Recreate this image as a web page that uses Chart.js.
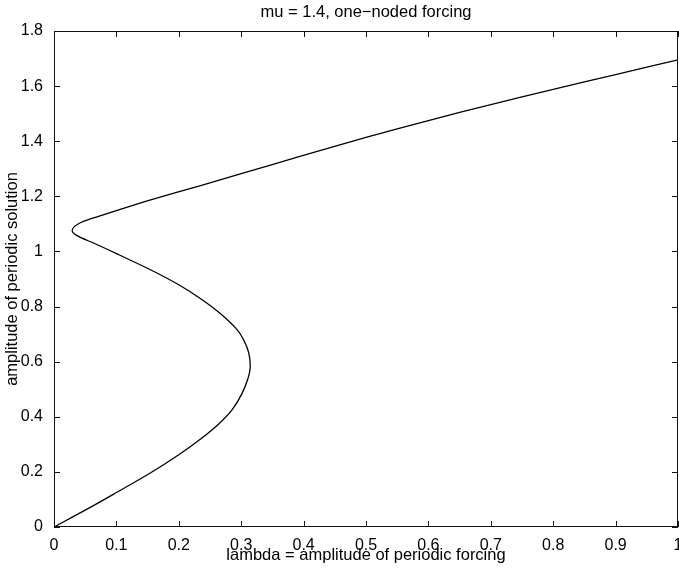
<!DOCTYPE html>
<html>
<head>
<meta charset="utf-8">
<script src="https://cdn.jsdelivr.net/npm/chart.js@4"></script>
<style>
  html, body { margin: 0; padding: 0; background: #fff; }
  #wrap { width: 679px; height: 572px; }
</style>
</head>
<body>
<div id="wrap"><canvas id="myChart"></canvas></div>
<script>
// curve, in order along the branch
let lambda = [0, 0.05, 0.1, 0.153, 0.2, 0.237, 0.264, 0.285, 0.301, 0.311, 0.3145, 0.312, 0.303, 0.292,
  0.266, 0.238, 0.2, 0.157, 0.104, 0.066, 0.043, 0.033, 0.029, 0.033, 0.044, 0.058, 0.075, 0.1, 0.155,
  0.235, 0.3, 0.394, 0.5, 0.6, 0.7, 0.8, 0.9, 1.0];
let amp = [0, 0.061, 0.125, 0.194, 0.262, 0.323, 0.374, 0.424, 0.483, 0.54, 0.58, 0.633, 0.683, 0.72,
  0.776, 0.824, 0.879, 0.931, 0.988, 1.028, 1.05, 1.063, 1.076, 1.091, 1.106, 1.118, 1.13, 1.148, 1.187,
  1.239, 1.282, 1.345, 1.414, 1.475, 1.533, 1.588, 1.642, 1.695];

let xTicks = [0, 0.1, 0.2, 0.3, 0.4, 0.5, 0.6, 0.7, 0.8, 0.9, 1];
let yTicks = [0, 0.2, 0.4, 0.6, 0.8, 1, 1.2, 1.4, 1.6, 1.8];

let points = lambda.map((v, i) => ({ x: v, y: amp[i] }));

let font = "'Liberation Sans', Arial, Helvetica, sans-serif";

// matlab style box with ticks pointing inwards
let boxTicks = {
  id: 'boxTicks',
  afterDatasetsDraw(chart) {
    let c = chart.ctx;
    let a = chart.chartArea;
    let sx = chart.scales.x, sy = chart.scales.y;
    c.save();
    c.strokeStyle = '#111';
    c.lineWidth = 1;
    c.strokeRect(a.left + 0.5, a.top + 0.5, a.right - a.left - 1, a.bottom - a.top - 1);
    c.beginPath();
    xTicks.forEach(t => {
      let px = Math.round(sx.getPixelForValue(t)) + 0.5;
      c.moveTo(px, a.bottom); c.lineTo(px, a.bottom - 6);
      c.moveTo(px, a.top); c.lineTo(px, a.top + 6);
    });
    yTicks.forEach(t => {
      let py = Math.round(sy.getPixelForValue(t)) + 0.5;
      c.moveTo(a.left, py); c.lineTo(a.left + 6, py);
      c.moveTo(a.right, py); c.lineTo(a.right - 6, py);
    });
    c.stroke();
    c.restore();
  }
};

let fmt = v => String(+v.toFixed(1));

let ctx = document.getElementById('myChart').getContext('2d');

let myChart = new Chart(ctx, {
  type: 'scatter',
  data: {
    datasets: [{
      data: points,
      showLine: true,
      borderColor: '#000',
      borderWidth: 1.3,
      pointRadius: 0,
      tension: 0.3
    }]
  },
  options: {
    responsive: true,
    maintainAspectRatio: false,
    animation: false,
    layout: { padding: { left: 0, right: 1, top: 0, bottom: 0 } },
    plugins: {
      legend: { display: false },
      tooltip: { enabled: false },
      title: {
        display: true,
        fullSize: false,
        text: 'mu = 1.4, one\u2212noded forcing',
        color: '#000',
        font: { family: font, size: 16.5, weight: 'normal' },
        padding: { top: 3, bottom: 8.2 }
      }
    },
    scales: {
      x: {
        type: 'linear',
        min: 0, max: 1,
        afterBuildTicks: s => { s.ticks = xTicks.map(v => ({ value: v })); },
        afterFit: s => { s.height = 45; s.paddingLeft = 0; s.paddingRight = 0; },
        grid: { display: false },
        border: { display: false },
        ticks: { color: '#000', padding: 1, maxRotation: 0, callback: fmt, font: { family: font, size: 16 } },
        title: {
          display: true,
          text: 'lambda = amplitude of periodic forcing',
          color: '#000',
          font: { family: font, size: 16.5 },
          padding: { top: 0, bottom: 7 }
        }
      },
      y: {
        type: 'linear',
        min: 0, max: 1.8,
        afterBuildTicks: s => { s.ticks = yTicks.map(v => ({ value: v })); },
        afterFit: s => { s.width = 54; s.paddingTop = 0; s.paddingBottom = 0; },
        grid: { display: false },
        border: { display: false },
        ticks: { color: '#000', padding: 3, callback: fmt, font: { family: font, size: 16 } },
        title: {
          display: true,
          text: 'amplitude of periodic solution',
          color: '#000',
          font: { family: font, size: 16.5 },
          padding: { top: 3, bottom: 0 }
        }
      }
    }
  },
  plugins: [boxTicks]
});
</script>
</body>
</html>
